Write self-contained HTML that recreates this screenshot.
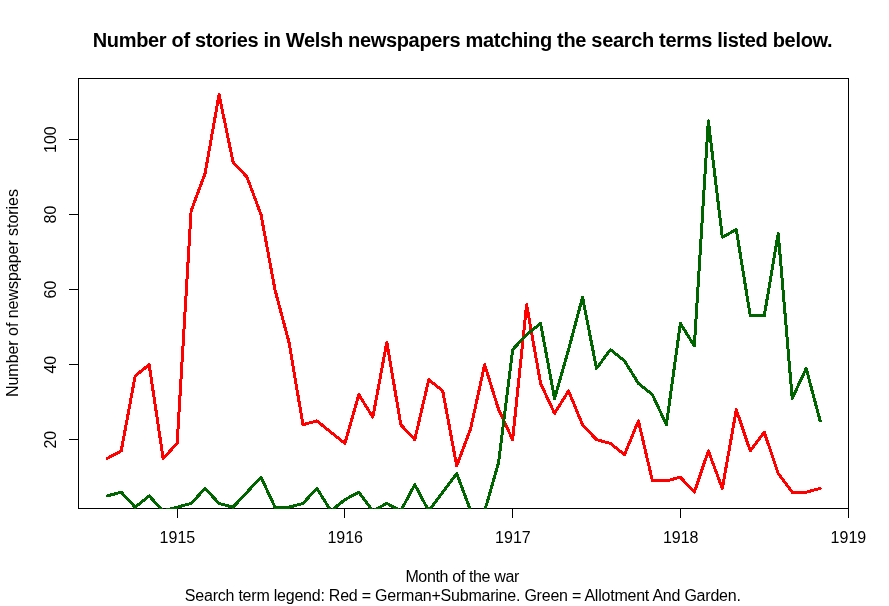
<!DOCTYPE html>
<html><head><meta charset="utf-8"><title>Number of stories in Welsh newspapers</title>
<style>
html,body{margin:0;padding:0;background:#fff;}
body{width:889px;height:606px;overflow:hidden;}
svg{display:block;}
text{font-family:"Liberation Sans",Arial,sans-serif;fill:#000;}
.t{font-size:20px;font-weight:bold;}
.a{font-size:16px;}
</style></head><body>
<svg width="889" height="606" viewBox="0 0 889 606">
<rect width="889" height="606" fill="#fff"/>
<defs><clipPath id="c"><rect x="78" y="78" width="771" height="431"/></clipPath></defs>

<g clip-path="url(#c)" fill="none" stroke-width="3" stroke-linejoin="round" stroke-linecap="round" shape-rendering="crispEdges">
<polyline stroke="#ff0000" points="107.24,458.42 121.22,450.92 135.19,375.91 149.17,364.66 163.15,458.42 177.13,443.42 191.11,210.89 205.09,173.38 219.07,94.62 233.05,162.13 247.03,177.13 261.01,214.64 274.98,289.65 288.96,342.16 302.94,424.67 316.92,420.92 330.90,432.17 344.88,443.42 358.86,394.66 372.84,417.17 386.82,342.16 400.79,424.67 414.77,439.67 428.75,379.66 442.73,390.91 456.71,465.92 470.69,428.42 484.67,364.66 498.65,409.67 512.63,439.67 526.61,304.65 540.58,383.41 554.56,413.42 568.54,390.91 582.52,424.67 596.50,439.67 610.48,443.42 624.46,454.67 638.44,420.92 652.42,480.93 666.39,480.93 680.37,477.18 694.35,492.18 708.33,450.92 722.31,488.43 736.29,409.67 750.27,450.92 764.25,432.17 778.23,473.43 792.21,492.18 806.18,492.18 820.16,488.43"/>
</g>
<g stroke="#000" stroke-width="1" fill="none" shape-rendering="crispEdges">
<rect x="78.5" y="78.5" width="770.0" height="430.0"/>
<path d="M177.5 508.5V518.0"/>
<path d="M344.5 508.5V518.0"/>
<path d="M512.5 508.5V518.0"/>
<path d="M680.5 508.5V518.0"/>
<path d="M848.5 508.5V518.0"/>
<path d="M78.5 439.5H69.0"/>
<path d="M78.5 364.5H69.0"/>
<path d="M78.5 289.5H69.0"/>
<path d="M78.5 214.5H69.0"/>
<path d="M78.5 139.5H69.0"/>
</g>
<g clip-path="url(#c)" fill="none" stroke-width="3" stroke-linejoin="round" stroke-linecap="round" shape-rendering="crispEdges">
<polyline stroke="#006400" points="107.24,495.93 121.22,492.18 135.19,507.18 149.17,495.93 163.15,510.93 177.13,507.18 191.11,503.43 205.09,488.43 219.07,503.43 233.05,507.18 247.03,492.18 261.01,477.18 274.98,507.18 288.96,507.18 302.94,503.43 316.92,488.43 330.90,510.93 344.88,499.68 358.86,492.18 372.84,510.93 386.82,503.43 400.79,510.93 414.77,484.68 428.75,510.93 442.73,492.18 456.71,473.43 470.69,510.93 484.67,510.93 498.65,462.17 512.63,349.66 526.61,334.66 540.58,323.40 554.56,398.41 568.54,349.66 582.52,297.15 596.50,368.41 610.48,349.66 624.46,360.91 638.44,383.41 652.42,394.66 666.39,424.67 680.37,323.40 694.35,345.91 708.33,120.88 722.31,237.14 736.29,229.64 750.27,315.90 764.25,315.90 778.23,233.39 792.21,398.41 806.18,368.41 820.16,420.92"/>
</g>
<text class="a" x="177.4" y="543" text-anchor="middle">1915</text>
<text class="a" x="345.2" y="543" text-anchor="middle">1916</text>
<text class="a" x="512.9" y="543" text-anchor="middle">1917</text>
<text class="a" x="680.7" y="543" text-anchor="middle">1918</text>
<text class="a" x="848.4" y="543" text-anchor="middle">1919</text>
<text class="a" transform="translate(56,439.7) rotate(-90)" text-anchor="middle">20</text>
<text class="a" transform="translate(56,364.7) rotate(-90)" text-anchor="middle">40</text>
<text class="a" transform="translate(56,289.6) rotate(-90)" text-anchor="middle">60</text>
<text class="a" transform="translate(56,214.6) rotate(-90)" text-anchor="middle">80</text>
<text class="a" transform="translate(56,139.6) rotate(-90)" text-anchor="middle">100</text>
<text class="a" transform="translate(18,397) rotate(-90)" textLength="208" lengthAdjust="spacing">Number of newspaper stories</text>
<text class="t" x="92.65" y="47" textLength="739.95" lengthAdjust="spacing">Number of stories in Welsh newspapers matching the search terms listed below.</text>
<text class="a" x="405.4" y="582" textLength="113.9" lengthAdjust="spacing">Month of the war</text>
<text class="a" x="184.85" y="601" textLength="556" lengthAdjust="spacing">Search term legend: Red = German+Submarine. Green = Allotment And Garden.</text>
</svg></body></html>
